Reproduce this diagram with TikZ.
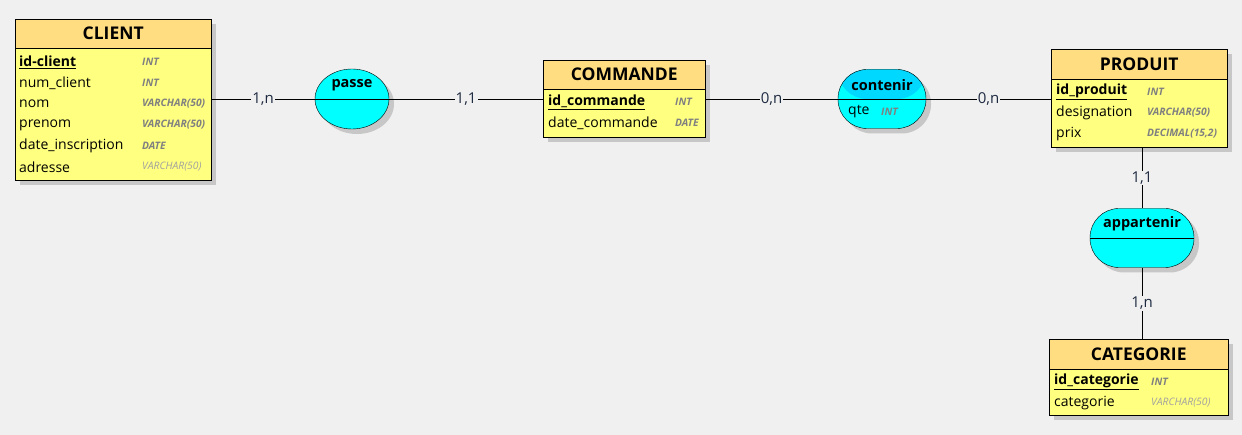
\documentclass[tikz,border=0pt]{standalone}
\usepackage{fontspec}
\setmainfont{Open Sans}
\usetikzlibrary{positioning,shadows,shapes.geometric}

\definecolor{bgcol}{HTML}{F0F0F0}
\definecolor{hdrcol}{HTML}{FFDD80}
\definecolor{bodycol}{HTML}{FFFF80}
\definecolor{asscol}{HTML}{00FFFF}
\definecolor{asstop}{HTML}{00D8FF}
\definecolor{typecol}{HTML}{808080}
\definecolor{optcol}{HTML}{A0A0A0}
\definecolor{cardcol}{HTML}{1E2A40}

\tikzset{
  shade box/.style={drop shadow={shadow xshift=5pt, shadow yshift=-5pt, fill=black!22, opacity=1}},
  tblhead/.style={draw=black, fill=hdrcol, anchor=north west, inner sep=0pt,
    font=\fontsize{17.5}{20}\selectfont\bfseries, shade box},
  tblbody/.style={draw=black, fill=bodycol, anchor=north west, inner sep=0pt, shade box},
  fld/.style={anchor=west, inner sep=0pt, font=\fontsize{14}{16}\selectfont},
  typ/.style={anchor=west, inner sep=0pt, text=typecol, font=\fontsize{10.3}{12}\selectfont\bfseries\itshape},
  opt/.style={anchor=west, inner sep=0pt, text=optcol, font=\fontsize{10.3}{12}\selectfont\itshape},
  assoc/.style={draw=black, fill=asscol, rounded corners=29pt, inner sep=0pt, shade box,
    path picture={\draw (path picture bounding box.west) -- (path picture bounding box.east);}},
  asstitle/.style={inner sep=0pt, font=\fontsize{14.5}{17}\selectfont\bfseries},
  card/.style={fill=bgcol, inner sep=1pt, text=cardcol, font=\fontsize{15}{17}\selectfont},
  link/.style={draw=black, line width=0.8pt}
}

\begin{document}
\begin{tikzpicture}[x=1pt, y=-1pt]
\fill[bgcol] (0,0) rectangle (1242,435);
\useasboundingbox (0,0) rectangle (1242,435);

% ---- CLIENT ----
\node[tblhead, minimum width=196pt, minimum height=29pt] (clienth) at (15,19) {CLIENT};
\node[tblbody, minimum width=196pt, minimum height=132pt] (clientb) at (15,48) {};
\node[fld] (c1) at (19,62)  {\underline{\textbf{id-client}}};
\node[fld] (c2) at (19,83)  {num\_client};
\node[fld] (c3) at (19,104) {nom};
\node[fld] (c4) at (19,125) {prenom};
\node[fld] (c5) at (19,146) {date\_inscription};
\node[fld] (c6) at (19,167) {adresse};
\node[typ] (ct1) at (142,62)  {INT};
\node[typ] (ct2) at (142,83)  {INT};
\node[typ] (ct3) at (142,104) {VARCHAR(50)};
\node[typ] (ct4) at (142,125) {VARCHAR(50)};
\node[typ] (ct5) at (142,146) {DATE};
\node[opt] (ct6) at (142,167) {VARCHAR(50)};

% ---- COMMANDE ----
\node[tblhead, minimum width=162pt, minimum height=29pt] (commandeh) at (543,60) {COMMANDE};
\node[tblbody, minimum width=162pt, minimum height=48pt] (commandeb) at (543,89) {};
\node[fld] (m1) at (548,102) {\underline{\textbf{id\_commande}}};
\node[fld] (m2) at (548,123) {date\_commande};
\node[typ] (mt1) at (675,102) {INT};
\node[typ] (mt2) at (675,123) {DATE};

% ---- PRODUIT ----
\node[tblhead, minimum width=176pt, minimum height=30pt] (produith) at (1051,49) {PRODUIT};
\node[tblbody, minimum width=176pt, minimum height=68pt] (produitb) at (1051,79) {};
\node[fld] (p1) at (1056,92)  {\underline{\textbf{id\_produit}}};
\node[fld] (p2) at (1056,113) {designation};
\node[fld] (p3) at (1056,134) {prix};
\node[typ] (pt1) at (1147,92)  {INT};
\node[typ] (pt2) at (1147,113) {VARCHAR(50)};
\node[typ] (pt3) at (1147,134) {DECIMAL(15,2)};

% ---- CATEGORIE ----
\node[tblhead, minimum width=179pt, minimum height=30pt] (categorieh) at (1049,339) {CATEGORIE};
\node[tblbody, minimum width=179pt, minimum height=46pt] (categorieb) at (1049,369) {};
\node[fld] (g1) at (1054,382) {\underline{\textbf{id\_categorie}}};
\node[fld] (g2) at (1054,403) {categorie};
\node[typ] (gt1) at (1151,382) {INT};
\node[opt] (gt2) at (1151,403) {VARCHAR(50)};

% ---- associations ----
\node[assoc, ellipse, minimum width=74pt, minimum height=60pt] (passe) at (352,99) {};
\node[asstitle] (passet) at (352,85) {passe};

\node[assoc, minimum width=88pt, minimum height=59pt,
  path picture={\fill[asstop] (path picture bounding box.north west) rectangle (path picture bounding box.east);
    \draw (path picture bounding box.west) -- (path picture bounding box.east);}] (contenir) at (882,99) {};
\node[asstitle] (contenirt) at (882,85) {contenir};
\node[fld] (q1) at (848,112) {qte};
\node[typ] (qt1) at (881,112) {INT};

\node[assoc, minimum width=104pt, minimum height=59pt] (appartenir) at (1142,238) {};
\node[asstitle] (appartenirt) at (1142,224) {appartenir};

% ---- links ----
\draw[link] (passe.west -| clientb.east) -- node[card] (l1) {1,n} (passe.west);
\draw[link] (passe.east) -- node[card] (l2) {1,1} (passe.east -| commandeb.west);
\draw[link] (contenir.west -| commandeb.east) -- node[card] (l3) {0,n} (contenir.west);
\draw[link] (contenir.east) -- node[card] (l4) {0,n} (contenir.east -| produitb.west);
\draw[link] (appartenir.north |- produitb.south) -- node[card] (l5) {1,1} (appartenir.north);
\draw[link] (appartenir.south) -- node[card] (l6) {1,n} (appartenir.south |- categorieh.north);
\end{tikzpicture}
\end{document}
